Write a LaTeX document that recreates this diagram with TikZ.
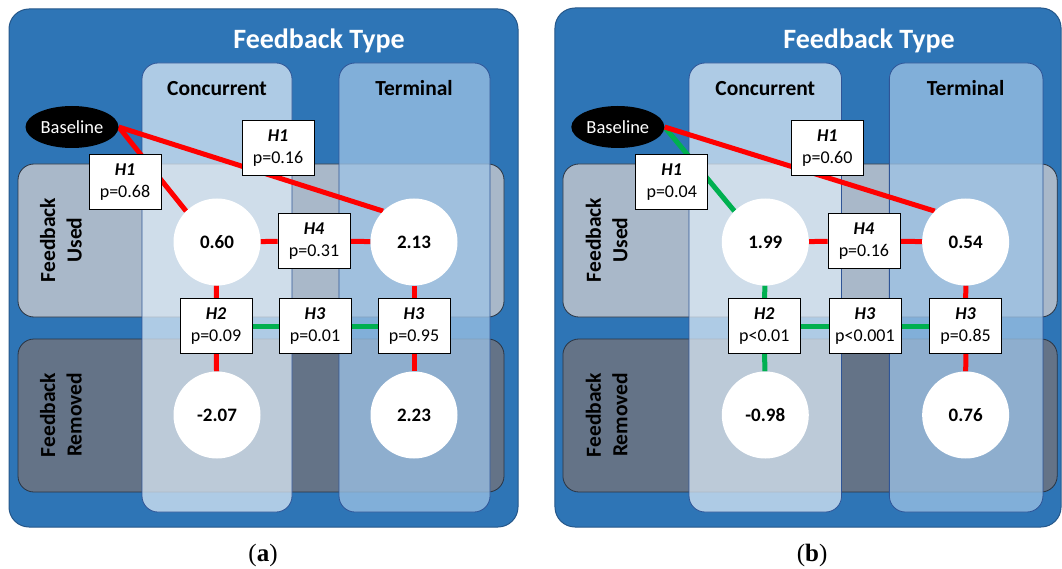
\documentclass[tikz,border=0pt]{standalone}
\usepackage{fontspec}
\setmainfont{Carlito}
\newfontfamily\capfont{Liberation Serif}
\usetikzlibrary{shapes.geometric}
\pgfdeclarelayer{bg}
\pgfdeclarelayer{links}
\pgfsetlayers{bg,links,main}
\definecolor{outerblue}{HTML}{2E75B6}
\definecolor{outerborder}{HTML}{25578A}
\definecolor{usedgray}{HTML}{A9B8C9}
\definecolor{remgray}{HTML}{647387}
\definecolor{rowborder}{HTML}{2A3442}
\definecolor{concfill}{HTML}{DEEBF7}
\definecolor{termfill}{HTML}{9DC3E6}
\definecolor{colborder}{HTML}{2F5597}
\definecolor{sigred}{HTML}{FF0000}
\definecolor{siggreen}{HTML}{00B050}
\tikzset{
 outerbox/.style={fill=outerblue, draw=outerborder, line width=1pt, rounded corners=20pt},
 rowbox/.style={draw=rowborder, line width=0.8pt, rounded corners=16pt},
 colbox/.style={draw=colborder, line width=0.8pt, rounded corners=16pt, fill opacity=0.73},
 meancircle/.style={circle, fill=white, minimum size=87pt, inner sep=0pt, font=\fontsize{19}{22}\selectfont\bfseries},
 pbox/.style={rectangle, draw=black, fill=white, line width=0.8pt, minimum width=72pt, minimum height=55pt, inner sep=0pt, align=center, font=\fontsize{18}{22}\selectfont},
 baseell/.style={ellipse, fill=black, text=white, minimum width=93pt, minimum height=42pt, inner sep=0pt, font=\fontsize{18.5}{20}\selectfont},
 redlink/.style={draw=sigred, line width=5pt},
 greenlink/.style={draw=siggreen, line width=5pt},
 titletext/.style={text=white, font=\fontsize{28}{32}\selectfont\bfseries, anchor=base},
 headtext/.style={font=\fontsize{21.5}{24}\selectfont\bfseries, anchor=base},
 rowtext/.style={font=\fontsize{21.5}{26.5}\selectfont\bfseries, rotate=90, align=center},
 captext/.style={font=\capfont\fontsize{25}{28}\selectfont},
}
\newcommand{\hyp}[2]{\textbf{\textit{#1}}\\#2}
\begin{document}
\begin{tikzpicture}[x=1pt,y=-1pt]
\useasboundingbox (0,0) rectangle (1062,569);
% ---------------- panel (a)
\begin{scope}
\begin{pgfonlayer}{bg}
\path[outerbox] (9,9) rectangle (518,527);
\path[rowbox, fill=usedgray] (18,164) rectangle (504,317);
\path[rowbox, fill=remgray] (18,339) rectangle (504,492);
\path[colbox, fill=concfill] (142,63) rectangle (292,512);
\path[colbox, fill=termfill, fill opacity=0.75] (339,63) rectangle (490,512);
\end{pgfonlayer}
\node[titletext] (aTitle) at (319,48.5) {Feedback Type};
\node[rowtext] (aUsed) at (61,240) {Feedback\\Used};
\node[rowtext] (aRem) at (61,415) {Feedback\\Removed};
\node[headtext] (aConc) at (217,96) {Concurrent};
\node[headtext] (aTerm) at (414,96) {Terminal};
\node[baseell] (aBase) at (72,127) {Baseline};
\node[meancircle] (aCU) at (217,242) {0.60};
\node[meancircle] (aTU) at (414,242) {2.13};
\node[meancircle] (aCR) at (217,415) {-2.07};
\node[meancircle] (aTR) at (414,415) {2.23};
\node[pbox] (aH1a) at (125,182) {\hyp{H1}{p=0.68}};
\node[pbox] (aH1b) at (278,148) {\hyp{H1}{p=0.16}};
\node[pbox] (aH4) at (314,241) {\hyp{H4}{p=0.31}};
\node[pbox] (aH2) at (216,326) {\hyp{H2}{p=0.09}};
\node[pbox] (aH3m) at (315,326) {\hyp{H3}{p=0.01}};
\node[pbox] (aH3t) at (414,326) {\hyp{H3}{p=0.95}};
\begin{pgfonlayer}{links}
\draw[redlink] (aBase.east) -- (aCU.135);
\draw[redlink] (aBase.east) -- (aTU.135);
\draw[redlink] (aCU) -- (aH4);
\draw[redlink] (aH4) -- (aTU);
\draw[redlink] (aCU) -- (aH2);
\draw[redlink] (aH2) -- (aCR);
\draw[greenlink] (aH2) -- (aH3m);
\draw[greenlink] (aH3m) -- (aH3t);
\draw[redlink] (aTU) -- (aH3t);
\draw[redlink] (aH3t) -- (aTR);
\end{pgfonlayer}
\node[captext] (aCap) at (263,555) {(\textbf{a})};
\end{scope}
% ---------------- panel (b)
\begin{scope}[shift={(544.6,0)}, xscale=1.017]
\begin{pgfonlayer}{bg}
\path[outerbox] (10.2,8) rectangle (507.8,527);
\path[rowbox, fill=usedgray] (18,164) rectangle (504,317);
\path[rowbox, fill=remgray] (18,339) rectangle (504,492);
\path[colbox, fill=concfill] (142,63) rectangle (292,512);
\path[colbox, fill=termfill, fill opacity=0.75] (339,63) rectangle (490,512);
\end{pgfonlayer}
\node[titletext] (bTitle) at (319,48.5) {Feedback Type};
\node[rowtext] (bUsed) at (61,240) {Feedback\\Used};
\node[rowtext] (bRem) at (61,415) {Feedback\\Removed};
\node[headtext] (bConc) at (217,96) {Concurrent};
\node[headtext] (bTerm) at (414,96) {Terminal};
\node[baseell] (bBase) at (72,127) {Baseline};
\node[meancircle] (bCU) at (217,242) {1.99};
\node[meancircle] (bTU) at (414,242) {0.54};
\node[meancircle] (bCR) at (217,415) {-0.98};
\node[meancircle] (bTR) at (414,415) {0.76};
\node[pbox] (bH1a) at (125,182) {\hyp{H1}{p=0.04}};
\node[pbox] (bH1b) at (278,148) {\hyp{H1}{p=0.60}};
\node[pbox] (bH4) at (314,241) {\hyp{H4}{p=0.16}};
\node[pbox] (bH2) at (216,326) {\hyp{H2}{p<0.01}};
\node[pbox] (bH3m) at (315,326) {\hyp{H3}{p<0.001}};
\node[pbox] (bH3t) at (414,326) {\hyp{H3}{p=0.85}};
\begin{pgfonlayer}{links}
\draw[greenlink] (bBase.east) -- (bCU.135);
\draw[redlink] (bBase.east) -- (bTU.135);
\draw[redlink] (bCU) -- (bH4);
\draw[redlink] (bH4) -- (bTU);
\draw[greenlink] (bCU) -- (bH2);
\draw[greenlink] (bH2) -- (bCR);
\draw[greenlink] (bH2) -- (bH3m);
\draw[greenlink] (bH3m) -- (bH3t);
\draw[redlink] (bTU) -- (bH3t);
\draw[redlink] (bH3t) -- (bTR);
\end{pgfonlayer}
\node[captext] (bCap) at (263,555) {(\textbf{b})};
\end{scope}
\end{tikzpicture}
\end{document}
